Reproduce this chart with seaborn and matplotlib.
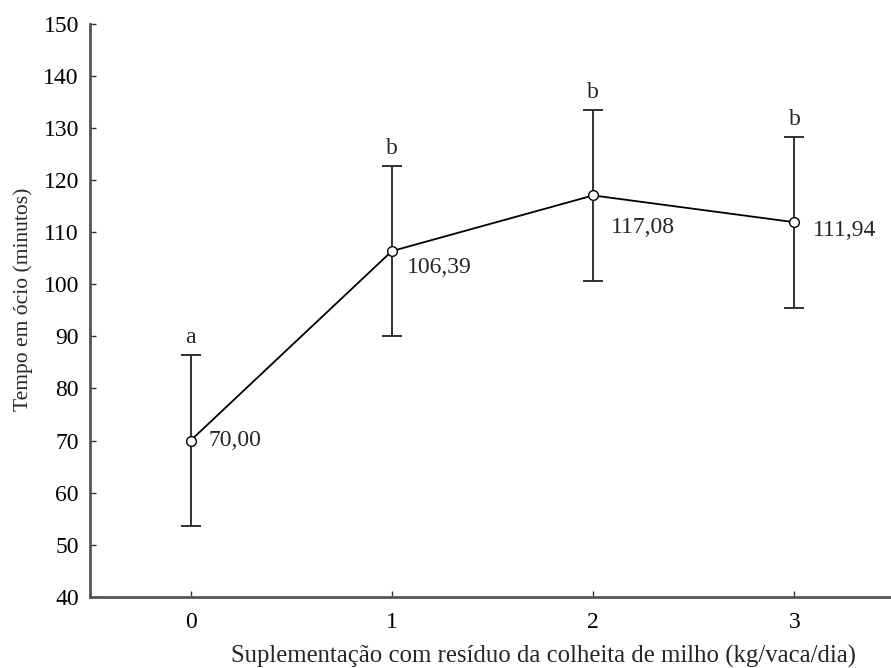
import matplotlib
matplotlib.use("Agg")
import matplotlib.pyplot as plt
import seaborn as sns
import pandas as pd

doses = [0, 1, 2, 3]
means = [70.00, 106.39, 117.08, 111.94]
errors = [16.4, 16.4, 16.4, 16.4]
value_labels = ["70,00", "106,39", "117,08", "111,94"]
letters = ["a", "b", "b", "b"]
yticks = [40, 50, 60, 70, 80, 90, 100, 110, 120, 130, 140, 150]
xticks = [0, 1, 2, 3]

sns.set_style("ticks")
plt.rcParams['font.family'] = ['Liberation Serif', 'DejaVu Serif']

df = pd.DataFrame({"dose": doses, "tempo": means})

fig = plt.figure(figsize=(8.91, 6.68), dpi=100)
ax = fig.add_axes([0.101, 0.1067, 0.899, 0.8573])

ax.errorbar(doses, means, yerr=errors, fmt="none", ecolor="#222222",
            elinewidth=1.3, capsize=7, capthick=1.3, zorder=2)
sns.lineplot(data=df, x="dose", y="tempo", ax=ax, color="black", linewidth=1.3,
             marker="o", markersize=7, markerfacecolor="white",
             markeredgecolor="black", markeredgewidth=1.0, zorder=3)

label_offsets = [(13, 0), (11, -12), (13, -23), (13, -6)]
for x, m, lab, off in zip(doses, means, value_labels, label_offsets):
    ax.annotate(lab, (x, m), xytext=off, textcoords="offset points",
                ha="left", va="center", fontsize=17)
for x, m, e, let in zip(doses, means, errors, letters):
    ax.annotate(let, (x, m + e), xytext=(0, 5), textcoords="offset points",
                ha="center", va="bottom", fontsize=17)

ax.set_xlim(-0.5, 3.48)
ax.set_ylim(40, 150)
ax.set_xticks(xticks)
ax.set_yticks(yticks)
ax.tick_params(direction="in", length=4, width=1, colors="#333333", labelcolor="black",
               labelsize=17)
ax.tick_params(axis="x", pad=11)
ax.tick_params(axis="y", pad=8)
for s in ["left", "bottom"]:
    ax.spines[s].set_linewidth(2)
    ax.spines[s].set_color("#555555")
for s in ["right", "top"]:
    ax.spines[s].set_visible(False)

ax.set_xlabel("Suplementação com resíduo da colheita de milho (kg/vaca/dia)", fontsize=17.8)
ax.xaxis.set_label_coords(0.566, -0.085)
ax.set_ylabel("Tempo em ócio (minutos)", fontsize=15.5)
ax.yaxis.set_label_coords(-0.071, 0.52)

fig.savefig("out.png", dpi=100)
